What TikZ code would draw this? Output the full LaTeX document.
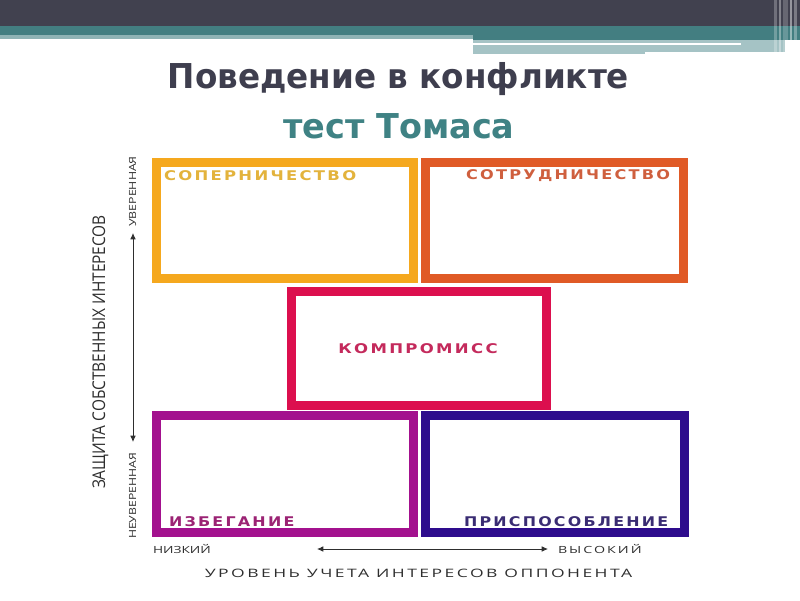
\documentclass[tikz,border=0pt]{standalone}
\usepackage{fontspec}
\usepackage{graphicx}
\usetikzlibrary{arrows.meta}
\setmainfont{DejaVu Sans}
\newfontfamily\titlefont{DejaVu Sans}
\newfontfamily\labelfont[LetterSpace=14]{DejaVu Sans}
\newfontfamily\axisfont{Open Sans}
\newfontfamily\axisfontsp[LetterSpace=14]{Open Sans}
\definecolor{barDark}{HTML}{41414F}
\definecolor{barTeal}{HTML}{437E81}
\definecolor{barTealMid}{HTML}{8FB3B5}
\definecolor{barLight}{HTML}{A5C3C5}
\definecolor{titleDark}{HTML}{3E3E4E}
\definecolor{titleTeal}{HTML}{3F8284}
\definecolor{cOrange}{HTML}{F5A81E}
\definecolor{cRedOr}{HTML}{E05A26}
\definecolor{cCrimson}{HTML}{DC0F4E}
\definecolor{cPurple}{HTML}{A3118E}
\definecolor{cIndigo}{HTML}{2E0C8D}
\definecolor{tOrange}{HTML}{E3B33C}
\definecolor{tRedOr}{HTML}{CF5F3E}
\definecolor{tCrimson}{HTML}{C42A5C}
\definecolor{tPurple}{HTML}{9B2374}
\definecolor{tIndigo}{HTML}{3A2C73}
\definecolor{axisGray}{HTML}{2E2E2E}
\newsavebox\fitbox
\newlength\fitlen
\newcommand\fitw[2]{\sbox\fitbox{#2}\setlength\fitlen{\wd\fitbox}\pgfmathsetmacro\fitr{(#1)*0.5669/\fitlen}\scalebox{\fitr}[1]{\usebox\fitbox}}
\tikzset{
  txt/.style={inner sep=0pt, outer sep=0pt},
  qbox/.style={draw, fill=white, line width=5.1pt, inner sep=0pt},
  boxlabel/.style={txt},
  axisline/.style={draw=axisGray, line width=0.45pt, {Latex[length=3.6pt,width=3.2pt]}-{Latex[length=3.6pt,width=3.2pt]}},
}
\begin{document}
\begin{tikzpicture}[x=0.02cm, y=-0.02cm]
\useasboundingbox (0,0) rectangle (800,600);
% top bars
\fill[barDark] (0,0) rectangle (800,26);
\fill[barTeal] (0,26) rectangle (800,35);
\fill[barTealMid] (0,35) rectangle (473,39);
\fill[barTeal] (473,35) rectangle (800,40);
\fill[barLight] (473,40) rectangle (645,54);
\fill[barLight] (645,40) rectangle (785,52);
\fill[white] (473,43) rectangle (741,45);
\fill[white, opacity=0.25] (774,0) rectangle (777,54);
\fill[white, opacity=0.35] (779,0) rectangle (781,54);
\fill[white, opacity=0.2] (783,0) rectangle (788,54);
\fill[white, opacity=0.45] (790,0) rectangle (792,54);
\fill[white, opacity=0.3] (794,0) rectangle (797,54);
% title
\node[txt, text=titleDark, anchor=base] (t1) at (398.5,88) {\fitw{463}{\titlefont\fontsize{19.5}{22}\selectfont\bfseries Поведение в конфликте}};
\node[txt, text=titleTeal, anchor=base] (t2) at (399,138) {\fitw{232}{\titlefont\fontsize{19.5}{22}\selectfont\bfseries тест Томаса}};
% boxes
\node[qbox, draw=cOrange, minimum width=257*0.02cm, minimum height=116*0.02cm] (sop) at (285,220.5) {};
\node[qbox, draw=cRedOr, minimum width=258*0.02cm, minimum height=116*0.02cm] (sot) at (554.5,220.5) {};
\node[qbox, draw=cCrimson, minimum width=255*0.02cm, minimum height=114*0.02cm] (kom) at (419,348.5) {};
\node[qbox, draw=cPurple, minimum width=257*0.02cm, minimum height=117*0.02cm] (izb) at (285,474) {};
\node[qbox, draw=cIndigo, minimum width=259*0.02cm, minimum height=117*0.02cm] (pri) at (555,474) {};
% box labels
\node[boxlabel, text=tOrange, anchor=west] (lsop) at (164,176) {\fitw{193}{\labelfont\fontsize{7.6}{9}\selectfont\bfseries СОПЕРНИЧЕСТВО}};
\node[boxlabel, text=tRedOr, anchor=west] (lsot) at (466,176) {\fitw{205}{\labelfont\fontsize{7.6}{9}\selectfont\bfseries СОТРУДНИЧЕСТВО}};
\node[boxlabel, text=tCrimson] (lkom) at (418,349) {\fitw{160}{\labelfont\fontsize{7.6}{9}\selectfont\bfseries КОМПРОМИСС}};
\node[boxlabel, text=tPurple, anchor=west] (lizb) at (169,522) {\fitw{126}{\labelfont\fontsize{7.6}{9}\selectfont\bfseries ИЗБЕГАНИЕ}};
\node[boxlabel, text=tIndigo, anchor=west] (lpri) at (464,522) {\fitw{205}{\labelfont\fontsize{7.6}{9}\selectfont\bfseries ПРИСПОСОБЛЕНИЕ}};
% vertical axis
\node[txt, text=axisGray, rotate=90, anchor=base] (yax) at (105,352) {\fitw{275}{\axisfont\fontsize{10}{12}\selectfont ЗАЩИТА СОБСТВЕННЫХ ИНТЕРЕСОВ}};
\node[txt, text=axisGray, rotate=90, anchor=base] (yhi) at (136,191.5) {\fitw{71}{\axisfont\fontsize{5.6}{7}\selectfont УВЕРЕННАЯ}};
\node[txt, text=axisGray, rotate=90, anchor=base] (ylo) at (136,496) {\fitw{86}{\axisfont\fontsize{5.6}{7}\selectfont НЕУВЕРЕННАЯ}};
\coordinate (ytop) at (133,233);
\coordinate (ybot) at (133,442);
\draw[axisline] (ybot) -- (ytop);
% horizontal axis
\node[txt, text=axisGray, anchor=west] (xlo) at (153,549) {\fitw{58}{\axisfont\fontsize{5.6}{7}\selectfont НИЗКИЙ}};
\node[txt, text=axisGray, anchor=west] (xhi) at (558,549) {\fitw{84}{\axisfontsp\fontsize{5.6}{7}\selectfont ВЫСОКИЙ}};
\coordinate (xleft) at (317,549);
\coordinate (xright) at (548,549);
\draw[axisline] (xleft) -- (xright);
\node[txt, text=axisGray] (xax) at (418.5,573) {\fitw{429}{\axisfontsp\fontsize{6.6}{8}\selectfont УРОВЕНЬ УЧЕТА ИНТЕРЕСОВ ОППОНЕНТА}};
\end{tikzpicture}
\end{document}
